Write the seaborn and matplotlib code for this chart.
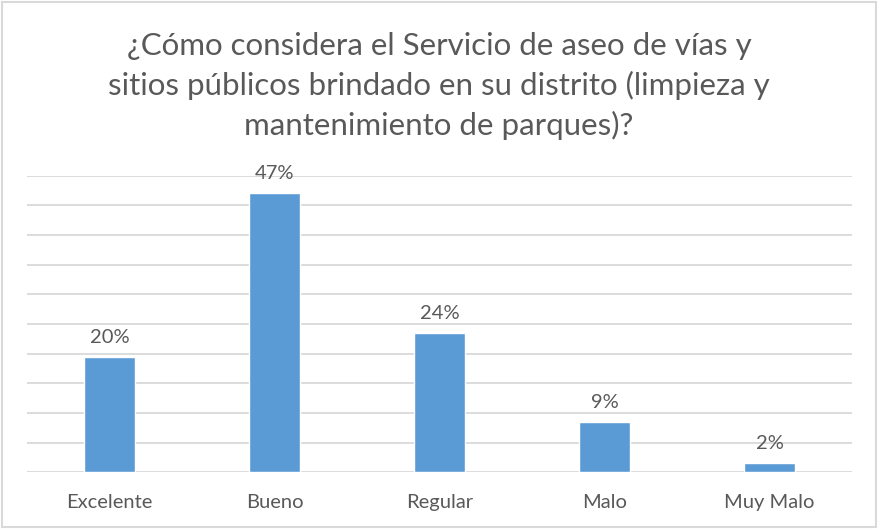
import matplotlib
matplotlib.use("Agg")
import matplotlib.pyplot as plt
import seaborn as sns
import pandas as pd

# =====================
# DATA
# =====================
categories = ["Excelente", "Bueno", "Regular", "Malo", "Muy Malo"]
shares = [0.195, 0.47, 0.235, 0.085, 0.015]
share_labels = ["20%", "47%", "24%", "9%", "2%"]

title = ("¿Cómo considera el Servicio de aseo de vías y\n"
         "sitios públicos brindado en su distrito (limpieza y\n"
         "mantenimiento de parques)?")

df = pd.DataFrame({"categoria": categories, "porcentaje": shares})

# =====================
# STYLE
# =====================
sns.set_style("white")
plt.rcParams["font.family"] = ["Lato", "DejaVu Sans"]
text_color = "#595959"
bar_color = "#5B9BD5"
grid_color = "#D9D9D9"

fig = plt.figure(figsize=(8.78, 5.29), dpi=100)
ax = fig.add_axes([0.0307, 0.107, 0.9397, 0.561])

sns.barplot(data=df, x="categoria", y="porcentaje", color=bar_color,
            width=0.31, saturation=1, ax=ax, zorder=3)

ax.set_ylim(0, 0.5)
ax.set_yticks([i * 0.05 for i in range(11)])
ax.yaxis.grid(True, color=grid_color, linewidth=1.3, zorder=0)
ax.set_axisbelow(True)
ax.tick_params(axis="y", left=False, labelleft=False)
ax.tick_params(axis="x", bottom=False, pad=12, labelsize=14.5, labelcolor=text_color)
ax.set_xlabel("")
ax.set_ylabel("")
for s in ax.spines.values():
    s.set_visible(False)

ax.bar_label(ax.containers[0], labels=share_labels, padding=8,
             fontsize=14.5, color=text_color)

fig.text(0.5, 0.838, title, ha="center", va="center",
         fontsize=22.5, color=text_color, linespacing=1.45)

# outer chart border
fig.patches.append(plt.Rectangle((0.002, 0.003), 0.996, 0.994, transform=fig.transFigure,
                                 fill=False, edgecolor=grid_color, linewidth=1.5))

fig.savefig("out.png", dpi=100)
plt.close(fig)
